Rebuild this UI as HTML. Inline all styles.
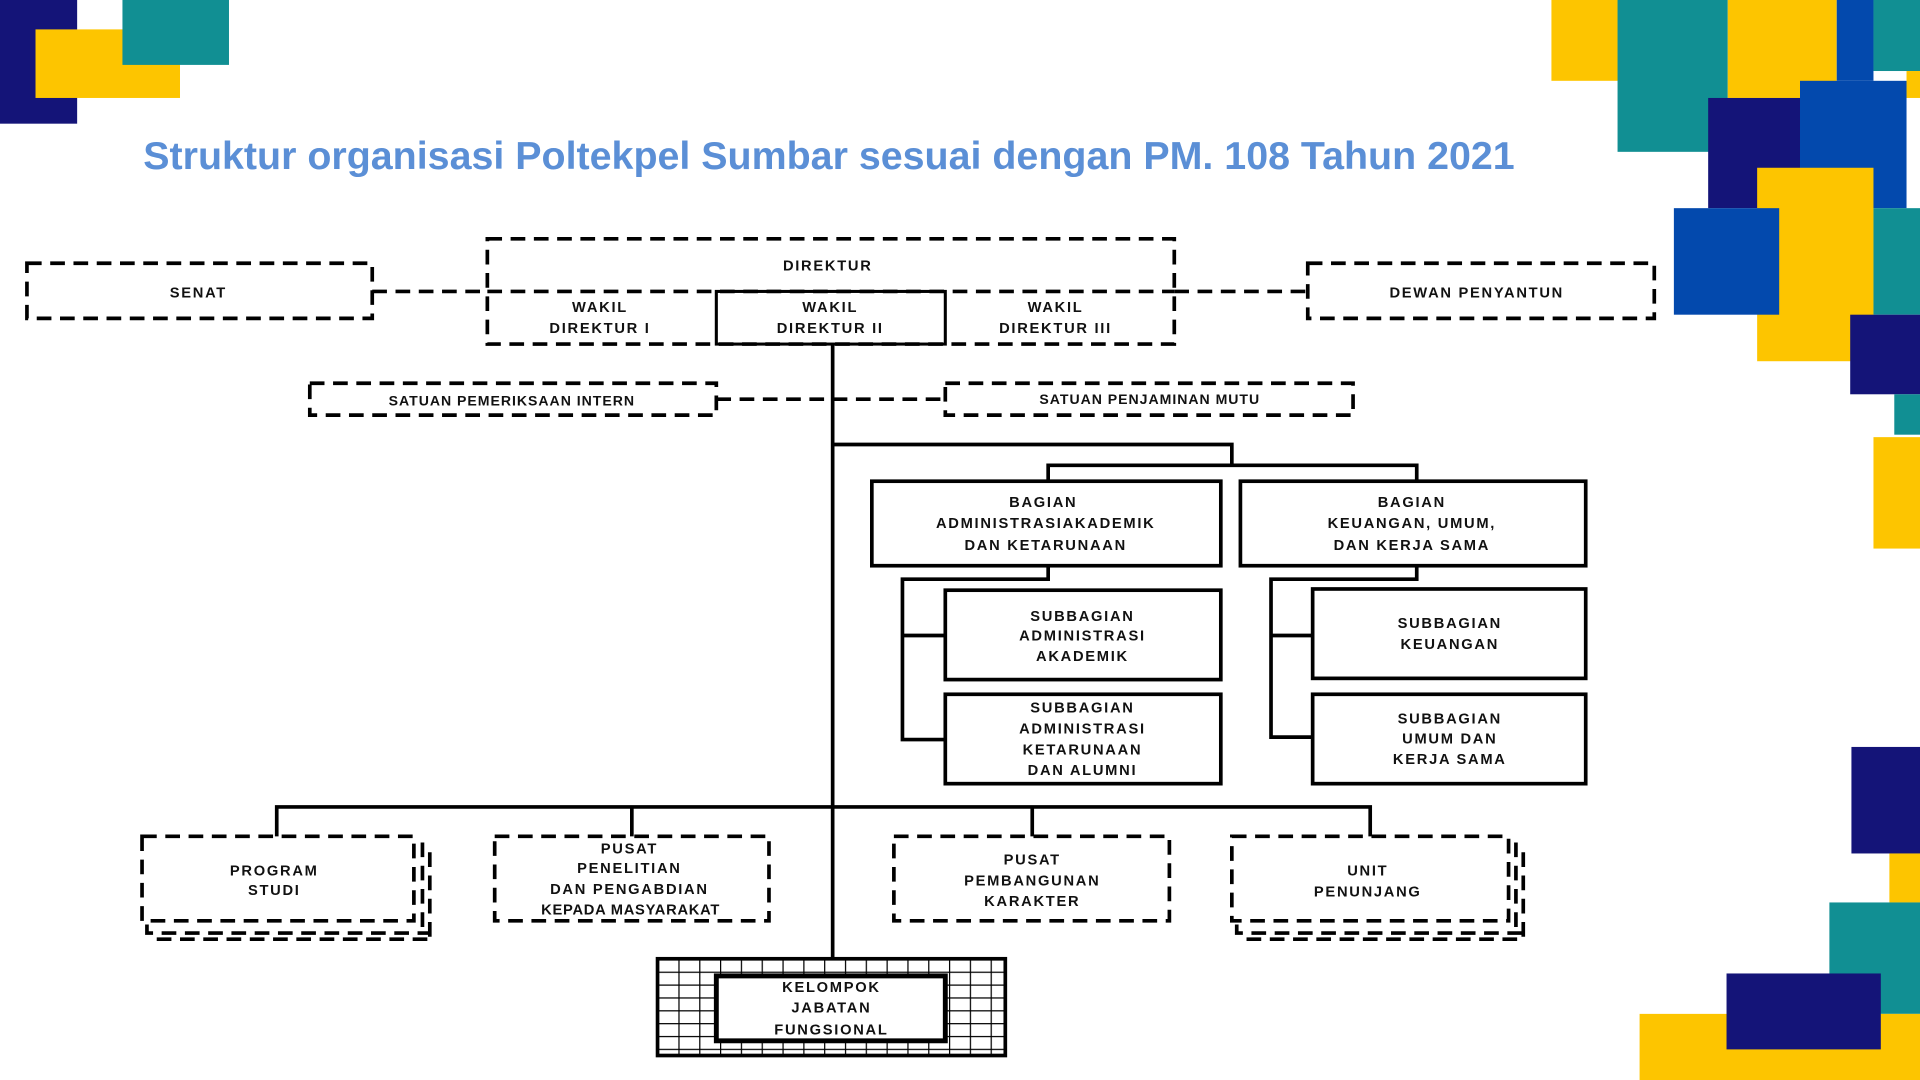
<!DOCTYPE html>
<html><head><meta charset="utf-8"><style>
html,body{margin:0;padding:0;background:#fff;width:1920px;height:1080px;overflow:hidden}
svg{display:block}
.t{font-family:"Liberation Sans",Arial,sans-serif;font-weight:bold;font-size:12px;letter-spacing:1.4px;fill:#111;text-anchor:middle}
.d{fill:none;stroke:#000;stroke-width:3;stroke-dasharray:12 7}
.s{fill:none;stroke:#000;stroke-width:3}
</style></head><body>
<svg width="1920" height="1080" viewBox="0 0 1568 882" xmlns="http://www.w3.org/2000/svg">
<defs>
<pattern id="g" width="17" height="10.5" patternUnits="userSpaceOnUse" x="537" y="783">
<rect width="17" height="10.5" fill="#fff"/>
<path d="M0 0H17M0 0V10.5" stroke="#000" stroke-width="2"/>
</pattern>
</defs>
<rect x="0" y="0" width="63" height="101" fill="#141478"/>
<rect x="29" y="24" width="118" height="56" fill="#fdc500"/>
<rect x="100" y="0" width="87" height="53" fill="#118f93"/>
<rect x="1267" y="0" width="90" height="66" fill="#fdc500"/>
<rect x="1321" y="0" width="90" height="124" fill="#118f93"/>
<rect x="1411" y="0" width="89" height="80" fill="#fdc500"/>
<rect x="1500" y="0" width="30" height="66" fill="#0349ad"/>
<rect x="1530" y="0" width="38" height="58" fill="#118f93"/>
<rect x="1557" y="58" width="11" height="22" fill="#fdc500"/>
<rect x="1470" y="66" width="87" height="104" fill="#0349ad"/>
<rect x="1395" y="80" width="75" height="90" fill="#141478"/>
<rect x="1435" y="137" width="95" height="158" fill="#fdc500"/>
<rect x="1367" y="170" width="86" height="87" fill="#0349ad"/>
<rect x="1530" y="170" width="38" height="87" fill="#118f93"/>
<rect x="1511" y="257" width="57" height="65" fill="#141478"/>
<rect x="1547" y="322" width="21" height="33" fill="#118f93"/>
<rect x="1530" y="357" width="38" height="91" fill="#fdc500"/>
<rect x="1512" y="610" width="56" height="87" fill="#141478"/>
<rect x="1543" y="697" width="25" height="40" fill="#fdc500"/>
<rect x="1494" y="737" width="74" height="91" fill="#118f93"/>
<rect x="1339" y="828" width="229" height="54" fill="#fdc500"/>
<rect x="1410" y="795" width="126" height="62" fill="#141478"/>
<text x="117" y="138" textLength="1120" lengthAdjust="spacingAndGlyphs" style="font-family:'Liberation Sans',Arial,sans-serif;font-weight:bold;font-size:32px;fill:#5b8fd6">Struktur organisasi Poltekpel Sumbar sesuai dengan PM. 108 Tahun 2021</text>

<rect class="d" x="22" y="215" width="282" height="45"/>
<text class="t" x="162" y="243">SENAT</text>
<rect class="d" x="398" y="195" width="561" height="86"/>
<text class="t" x="676" y="221">DIREKTUR</text>
<path class="d" d="M398 238H959"/>
<rect class="s" x="585" y="238" width="187" height="43" style="stroke-width:2.5"/>
<text class="t" x="490" y="255">WAKIL</text><text class="t" x="490" y="272">DIREKTUR I</text>
<text class="t" x="678" y="255">WAKIL</text><text class="t" x="678" y="272">DIREKTUR II</text>
<text class="t" x="862" y="255">WAKIL</text><text class="t" x="862" y="272">DIREKTUR III</text>
<path class="d" d="M304 238H398M959 238H1068"/>
<rect class="d" x="1068" y="215" width="283" height="45"/>
<text class="t" x="1206" y="243">DEWAN PENYANTUN</text>
<rect class="d" x="253" y="313" width="332" height="26"/>
<text class="t" x="418" y="331" style="font-size:11.5px;letter-spacing:0.8px">SATUAN PEMERIKSAAN INTERN</text>
<rect class="d" x="772" y="313" width="333" height="26"/>
<text class="t" x="939" y="330" style="font-size:11.5px;letter-spacing:0.8px">SATUAN PENJAMINAN MUTU</text>
<path class="d" d="M585 326H772"/>

<path class="s" d="M680 281V783"/>
<path class="s" d="M680 363H1006V380M856 393V380H1157V393"/>
<rect class="s" x="712" y="393" width="285" height="69"/>
<text class="t" x="852" y="414">BAGIAN</text><text class="t" x="854" y="431">ADMINISTRASIAKADEMIK</text><text class="t" x="854" y="449">DAN KETARUNAAN</text>
<rect class="s" x="1013" y="393" width="282" height="69"/>
<text class="t" x="1153" y="414">BAGIAN</text><text class="t" x="1153" y="431">KEUANGAN, UMUM,</text><text class="t" x="1153" y="449">DAN KERJA SAMA</text>
<path class="s" d="M856 462V473H737V604H772M737 519H772"/>
<path class="s" d="M1157 462V473H1038V602H1072M1038 519H1072"/>
<rect class="s" x="772" y="482" width="225" height="73"/>
<text class="t" x="884" y="507">SUBBAGIAN</text><text class="t" x="884" y="523">ADMINISTRASI</text><text class="t" x="884" y="540">AKADEMIK</text>
<rect class="s" x="772" y="567" width="225" height="73"/>
<text class="t" x="884" y="582">SUBBAGIAN</text><text class="t" x="884" y="599">ADMINISTRASI</text><text class="t" x="884" y="616">KETARUNAAN</text><text class="t" x="884" y="633">DAN ALUMNI</text>
<rect class="s" x="1072" y="481" width="223" height="73"/>
<text class="t" x="1184" y="513">SUBBAGIAN</text><text class="t" x="1184" y="530">KEUANGAN</text>
<rect class="s" x="1072" y="567" width="223" height="73"/>
<text class="t" x="1184" y="591">SUBBAGIAN</text><text class="t" x="1184" y="607">UMUM DAN</text><text class="t" x="1184" y="624">KERJA SAMA</text>

<path class="s" d="M226 683V659H1119V683M516 659V683M843 659V683"/>
<rect class="d" x="116" y="683" width="222" height="69"/>
<path class="d" d="M345 688V758M351 696V765M120 755V762H352M128 767H352"/>
<text class="t" x="224" y="715">PROGRAM</text><text class="t" x="224" y="731">STUDI</text>
<rect class="d" x="404" y="683" width="224" height="69"/>
<text class="t" x="514" y="697">PUSAT</text><text class="t" x="514" y="713">PENELITIAN</text><text class="t" x="514" y="730">DAN PENGABDIAN</text><text class="t" x="515" y="747" style="letter-spacing:0.6px">KEPADA MASYARAKAT</text>
<rect class="d" x="730" y="683" width="225" height="69"/>
<text class="t" x="843" y="706">PUSAT</text><text class="t" x="843" y="723">PEMBANGUNAN</text><text class="t" x="843" y="740">KARAKTER</text>
<rect class="d" x="1006" y="683" width="226" height="69"/>
<path class="d" d="M1238 688V758M1244 696V765M1010 755V762H1244M1018 767H1244"/>
<text class="t" x="1117" y="715">UNIT</text><text class="t" x="1117" y="732">PENUNJANG</text>

<rect x="537" y="783" width="284" height="79" fill="url(#g)" stroke="#000" stroke-width="3"/>
<rect x="585" y="797" width="187" height="53" fill="#fff" stroke="#000" stroke-width="4"/>
<text class="t" x="679" y="810">KELOMPOK</text><text class="t" x="679" y="827">JABATAN</text><text class="t" x="679" y="845">FUNGSIONAL</text>
</svg>
</body></html>
